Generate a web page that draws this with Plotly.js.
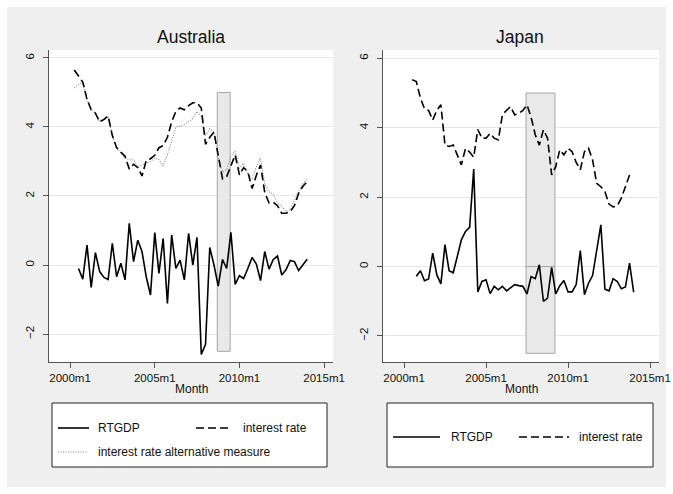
<!DOCTYPE html>
<html><head><meta charset="utf-8">
<script src="https://cdn.plot.ly/plotly-3.0.1.min.js"></script>
<style>html,body{margin:0;padding:0;background:#fff;width:673px;height:494px;overflow:hidden;} #chart{position:absolute;left:0;top:0;width:673px;height:494px;}</style>
</head><body><div id="chart"></div>
<script>
// ---------- data (quarterly observations, Stata monthly dates) ----------
const ausGdpStart = '2000-07';
const ausGdp = [-0.10,-0.41,0.58,-0.65,0.36,-0.19,-0.36,-0.42,0.63,-0.34,
  0.05,-0.43,1.21,0.10,0.72,0.39,-0.34,-0.87,0.94,-0.24,
  0.77,-1.11,0.87,-0.10,0.14,-0.43,0.92,0.00,0.80,-2.59,
  -2.30,0.51,0.00,-0.61,0.16,-0.10,0.95,-0.56,-0.31,-0.39,
  -0.10,0.22,0.03,-0.45,0.39,-0.12,0.16,0.26,-0.29,-0.14,
  0.13,0.10,-0.16,0.00,0.17];
const ausRateStart = '2000-04';
const ausRate = [5.65,5.48,5.30,4.80,4.50,4.40,4.15,4.22,4.32,3.75,
  3.40,3.27,3.15,2.78,2.92,2.82,2.58,3.03,3.08,3.18,
  3.40,3.46,3.70,4.15,4.45,4.55,4.50,4.62,4.70,4.70,
  4.55,3.50,3.70,3.85,3.20,2.50,2.56,2.88,3.19,2.61,
  2.82,2.70,2.22,2.60,2.90,2.10,1.80,1.82,1.72,1.50,
  1.50,1.55,1.72,2.08,2.28,2.42];
const ausRateAlt = [5.13,5.23,5.30,4.80,4.50,4.40,4.15,4.20,4.30,3.75,
  3.40,3.25,3.10,3.05,3.05,2.85,2.90,2.95,3.00,3.10,
  3.05,2.87,3.20,3.60,4.00,4.02,4.07,4.15,4.25,4.45,
  4.30,3.75,3.95,3.85,3.10,2.70,2.75,3.15,3.30,2.80,
  2.95,2.65,2.50,2.85,3.10,2.35,2.12,2.05,1.80,1.70,
  1.55,1.60,1.85,2.15,2.35,2.50];
const jpnGdpStart = '2000-10';
const jpnGdp = [-0.28,-0.12,-0.41,-0.36,0.39,-0.24,-0.50,0.63,-0.12,-0.18,
  0.29,0.77,1.01,1.13,2.81,-0.73,-0.43,-0.38,-0.78,-0.57,
  -0.67,-0.57,-0.70,-0.60,-0.52,-0.55,-0.57,-0.79,-0.29,-0.35,
  0.05,-1.00,-0.91,-0.02,-0.79,-0.55,-0.40,-0.73,-0.73,-0.52,
  0.46,-0.81,-0.48,-0.26,0.47,1.20,-0.65,-0.70,-0.35,-0.43,
  -0.64,-0.59,0.10,-0.74];
const jpnRateStart = '2000-07';
const jpnRate = [5.38,5.33,4.85,4.55,4.50,4.22,4.50,4.66,3.50,3.46,
  3.50,3.22,2.93,3.40,3.30,3.15,3.95,3.70,3.70,3.84,
  3.70,3.65,4.38,4.50,4.61,4.37,4.42,4.50,4.66,4.30,
  3.80,3.50,3.94,3.70,2.64,2.88,3.36,3.22,3.41,3.31,
  3.00,2.79,3.31,3.41,3.07,2.40,2.30,2.16,1.80,1.72,
  1.75,1.97,2.30,2.64];
const ausShade = ['2008-09-10','2009-06-15'];
const jpnShade = ['2007-06-10','2009-03-15'];
const shadeLow = -2.5, shadeHigh = 5;
const xTickVals = ['2000-01-01','2005-01-01','2010-01-01','2015-01-01'];
const xTickText = ['2000m1','2005m1','2010m1','2015m1'];
const yTickVals = [-2,0,2,4,6];
const panelTitles = ['Australia','Japan'];
const seriesNames = ['RTGDP','interest rate','interest rate alternative measure'];

// ---------- helpers ----------
function quarters(start, n){
  const p = start.split('-').map(Number); const out = [];
  for (let i=0;i<n;i++){ const mm = p[1]-1+3*i; const yy = p[0]+Math.floor(mm/12); const mo = mm%12+1;
    out.push(yy+'-'+String(mo).padStart(2,'0')+'-01'); }
  return out;
}
const W=673, H=494;
const px = x => x/W;
const py = y => 1-y/H;

const FONT = 'Liberation Sans, Arial, Helvetica, sans-serif';
const solid = {color:'#000', width:1.6};
const dashed = {color:'#000', width:1.6, dash:'8px,4px'};
const dotted = {color:'#8a8a8a', width:1.1, dash:'1px,1.5px'};

const traces = [
  {x:quarters(ausGdpStart, ausGdp.length), y:ausGdp, name:seriesNames[0], mode:'lines', line:solid, xaxis:'x', yaxis:'y'},
  {x:quarters(ausRateStart, ausRateAlt.length), y:ausRateAlt, name:seriesNames[2], mode:'lines', line:dotted, xaxis:'x', yaxis:'y'},
  {x:quarters(ausRateStart, ausRate.length), y:ausRate, name:seriesNames[1], mode:'lines', line:dashed, xaxis:'x', yaxis:'y'},
  {x:quarters(jpnGdpStart, jpnGdp.length), y:jpnGdp, name:seriesNames[0], mode:'lines', line:solid, xaxis:'x2', yaxis:'y2'},
  {x:quarters(jpnRateStart, jpnRate.length), y:jpnRate, name:seriesNames[1], mode:'lines', line:dashed, xaxis:'x2', yaxis:'y2'}
];

const axisCommon = {ticks:'outside', ticklen:5, tickcolor:'#555', tickwidth:1, showline:true, linecolor:'#555', linewidth:1, zeroline:false, tickfont:{size:11.5, color:'#111'}};
function xAxis(dom, range, anchor){ return Object.assign({}, axisCommon, {domain:dom, range:range, type:'date', tickmode:'array', tickvals:xTickVals, ticktext:xTickText, showgrid:false, anchor:anchor}); }
function yAxis(dom, range, anchor){ return Object.assign({}, axisCommon, {domain:dom, range:range, tickmode:'array', tickvals:yTickVals, tickangle:-90, showgrid:true, gridcolor:'#e6e6e6', gridwidth:1, anchor:anchor, ticklabelstandoff:4}); }

const yDom = [py(362), py(50)];
const shapeStyle = {fillcolor:'#e9e9e9', line:{color:'#a6a6a6', width:1}, layer:'between'};
function paperRect(x0,x1,y0,y1,fill,line,layer){ const s={type:'rect', xref:'paper', yref:'paper', x0:px(x0), x1:px(x1), y0:py(y1), y1:py(y0), fillcolor:fill, line:line||{width:0}}; if(layer) s.layer=layer; return s; }
const shapes = [
  // graph region background and plot region backgrounds
  paperRect(7,666,7,487,'#efefef',{width:0},'below'),
  paperRect(49,333,50,362,'#ffffff',{width:0},'below'),
  paperRect(383,659,50,362,'#ffffff',{width:0},'below'),
  // shaded periods
  Object.assign({type:'rect', xref:'x', yref:'y', x0:ausShade[0], x1:ausShade[1], y0:shadeLow, y1:shadeHigh}, shapeStyle),
  Object.assign({type:'rect', xref:'x2', yref:'y2', x0:jpnShade[0], x1:jpnShade[1], y0:0, y1:shadeHigh}, shapeStyle),
  Object.assign({type:'rect', xref:'x2', yref:'y2', x0:jpnShade[0], x1:jpnShade[1], y0:shadeLow, y1:0}, shapeStyle),
  // legend boxes
  paperRect(52,327,403,467,'#fff',{color:'#222', width:1}),
  paperRect(387,653,403,467,'#fff',{color:'#222', width:1}),
  // legend samples
  {type:'line', xref:'paper', yref:'paper', x0:px(58), x1:px(89), y0:py(428), y1:py(428), line:solid},
  {type:'line', xref:'paper', yref:'paper', x0:px(196), x1:px(231), y0:py(428), y1:py(428), line:dashed},
  {type:'line', xref:'paper', yref:'paper', x0:px(58), x1:px(88), y0:py(452), y1:py(452), line:dotted},
  {type:'line', xref:'paper', yref:'paper', x0:px(393), x1:px(440), y0:py(437), y1:py(437), line:solid},
  {type:'line', xref:'paper', yref:'paper', x0:px(519), x1:px(569), y0:py(437), y1:py(437), line:dashed}
];

function ann(text, x, y, size, anchor){ return {text:text, xref:'paper', yref:'paper', x:px(x), y:py(y), xanchor:anchor||'center', yanchor:'middle', showarrow:false, font:{size:size, color:'#111', family:FONT}}; }
const annotations = [
  ann(panelTitles[0], 191, 37, 17.5), ann(panelTitles[1], 520, 37, 17.5),
  ann('Month', 191, 389, 12), ann('Month', 521, 389, 12),
  ann(seriesNames[0], 96, 428, 12, 'left'), ann(seriesNames[1], 241, 428, 12, 'left'),
  ann(seriesNames[2], 96, 452, 12, 'left'),
  ann(seriesNames[0], 449, 437, 12, 'left'), ann(seriesNames[1], 577, 437, 12, 'left')
];

const layout = {
  width:W, height:H, margin:{l:0,r:0,t:0,b:0,pad:0},
  paper_bgcolor:'#ffffff', plot_bgcolor:'#ffffff', showlegend:false, hovermode:false,
  font:{family:FONT, size:11.5, color:'#111'},
  xaxis: xAxis([px(49), px(333)], ['1998-10-04','2015-07-12'], 'y'),
  yaxis: yAxis(yDom, [-2.81, 6.23], 'x'),
  xaxis2: xAxis([px(383), px(659)], ['1998-09-20','2015-07-19'], 'y2'),
  yaxis2: yAxis(yDom, [-2.75, 6.24], 'x2'),
  shapes: shapes, annotations: annotations
};
Plotly.newPlot('chart', traces, layout, {displayModeBar:false, staticPlot:true});
</script></body></html>
